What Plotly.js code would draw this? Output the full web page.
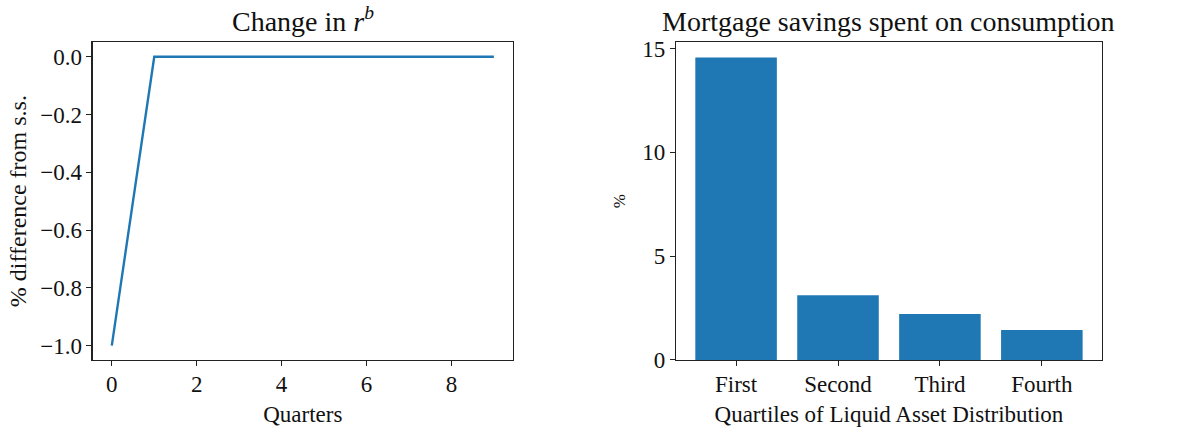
<!DOCTYPE html>
<html>
<head>
<meta charset="utf-8">
<script src="https://cdn.plot.ly/plotly-3.0.1.min.js"></script>
<style>
  html, body { margin: 0; padding: 0; background: #fff; }
  #chart { width: 1193px; height: 433px; }
</style>
</head>
<body>
<div id="chart"></div>
<script>
// left panel: change in r^b over quarters
var quarters = [0, 1, 2, 3, 4, 5, 6, 7, 8, 9];
var rbChange = [-1.0, 0, 0, 0, 0, 0, 0, 0, 0, 0];

// right panel: mortgage savings spent on consumption by liquid asset quartile
var quartiles = ['First', 'Second', 'Third', 'Fourth'];
var spentPct = [14.57, 3.12, 2.22, 1.45];

var blue = '#1f77b4';
var fontFam = '"Liberation Serif", "DejaVu Serif", serif';

var trace1 = {
  x: quarters,
  y: rbChange,
  type: 'scatter',
  mode: 'lines',
  line: {color: blue, width: 2.4},
  xaxis: 'x',
  yaxis: 'y',
  hoverinfo: 'x+y'
};

var trace2 = {
  x: [0, 1, 2, 3],
  y: spentPct,
  type: 'bar',
  width: 0.8,
  marker: {color: blue},
  xaxis: 'x2',
  yaxis: 'y2'
};

function axisStyle(extra) {
  var base = {
    showline: true,
    mirror: true,
    linecolor: '#222',
    linewidth: 1.2,
    showgrid: false,
    zeroline: false,
    ticks: 'outside',
    ticklen: 5,
    tickwidth: 1,
    tickcolor: '#222',
    tickfont: {family: fontFam, size: 23, color: '#111'}
  };
  for (var k in extra) base[k] = extra[k];
  return base;
}

var layout = {
  width: 1193,
  height: 433,
  margin: {l: 0, r: 0, t: 0, b: 0},
  paper_bgcolor: '#fff',
  plot_bgcolor: '#fff',
  showlegend: false,
  font: {family: fontFam, color: '#111'},
  xaxis: axisStyle({
    domain: [0.0777, 0.430],
    anchor: 'y',
    range: [-0.45, 9.45],
    tickvals: [0, 2, 4, 6, 8],
    ticklabelstandoff: -2,
    title: {text: 'Quarters', font: {family: fontFam, size: 23}, standoff: 10}
  }),
  yaxis: axisStyle({
    domain: [0.1686, 0.9023],
    anchor: 'x',
    range: [-1.05, 0.05],
    tickvals: [-1.0, -0.8, -0.6, -0.4, -0.2, 0.0],
    tickformat: '.1f',
    title: {text: '% difference from s.s.', font: {family: fontFam, size: 24}, standoff: 6}
  }),
  xaxis2: axisStyle({
    domain: [0.5666, 0.9237],
    anchor: 'y2',
    range: [-0.59, 3.59],
    tickvals: [0, 1, 2, 3],
    ticktext: quartiles,
    ticklabelstandoff: -2,
    title: {text: 'Quartiles of Liquid Asset Distribution', font: {family: fontFam, size: 23}, standoff: 10}
  }),
  yaxis2: axisStyle({
    domain: [0.1686, 0.9023],
    anchor: 'x2',
    range: [0, 15.3],
    tickvals: [0, 5, 10, 15],
    title: {text: '%', font: {family: fontFam, size: 17}, standoff: 12}
  }),
  annotations: [
    {
      text: 'Change in <i>r</i><sup><i>b</i></sup>',
      xref: 'paper', yref: 'paper',
      x: (0.0777 + 0.430) / 2, y: 0.91,
      xanchor: 'center', yanchor: 'bottom',
      showarrow: false,
      font: {family: fontFam, size: 28, color: '#111'}
    },
    {
      text: 'Mortgage savings spent on consumption',
      xref: 'paper', yref: 'paper',
      x: (0.5666 + 0.9237) / 2, y: 0.91,
      xanchor: 'center', yanchor: 'bottom',
      showarrow: false,
      font: {family: fontFam, size: 28, color: '#111'}
    }
  ]
};

Plotly.newPlot('chart', [trace1, trace2], layout, {displayModeBar: false, staticPlot: true});
</script>
</body>
</html>
